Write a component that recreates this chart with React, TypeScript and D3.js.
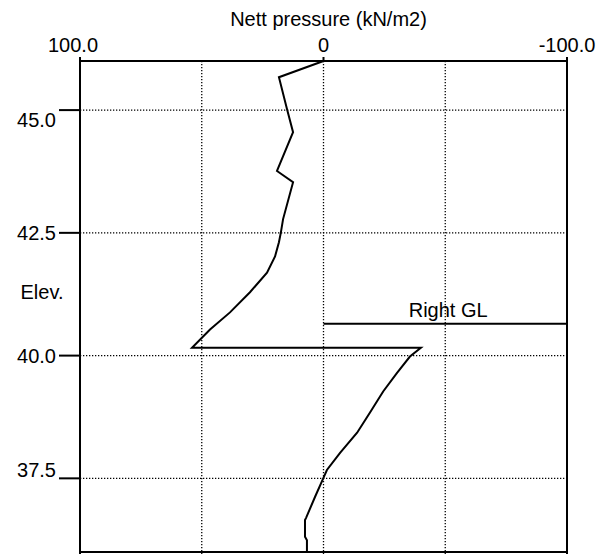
import React from "react";
import * as d3 from "d3";

const pressure = [0, 18.3, 15.0, 12.5, 19.1, 12.5, 16.6, 17.5, 18.3, 19.9, 23.2, 30.2, 38.4, 46.6, 54.0, -40.0, -35.5, -30.2, -24.5, -19.1, -13.8, -6.8, -1.4, 0.2, 3.5, 7.2, 7.6, 7.6, 6.8, 6.8];
const elevation = [46.0, 45.67, 45.02, 44.55, 43.76, 43.53, 42.78, 42.51, 42.31, 42.02, 41.69, 41.29, 40.88, 40.53, 40.16, 40.16, 39.98, 39.65, 39.27, 38.84, 38.43, 38.02, 37.67, 37.49, 37.12, 36.69, 36.65, 36.31, 36.24, 36.0];

const xTicks = [100, 0, -100];
const xTickLabels = ["100.0", "0", "-100.0"];
const xGrid = [50, 0, -50];
const yTicks = [45, 42.5, 40, 37.5];
const yTickLabels = ["45.0", "42.5", "40.0", "37.5"];

const groundLevelName = "Right GL";
const groundLevelElev = 40.65;
const groundLevelRange = [0, -100];

const title = "Nett pressure (kN/m2)";
const yTitle = "Elev.";

export default function App() {
  const W = 612, H = 554;
  const x = d3.scaleLinear().domain([100, -100]).range([80, 567]);
  const y = d3.scaleLinear().domain([36, 46]).range([552, 61]);
  const pts = pressure.map((p, i) => [p, elevation[i]] as [number, number]);
  const line = d3.line<[number, number]>().x(d => x(d[0])).y(d => y(d[1]));
  const font = "'Liberation Sans', Arial, sans-serif";
  const fs = 20;
  const x0 = x(100), x1 = x(-100), yTop = y(46), yBot = y(36);
  const last = yTicks.length - 1;
  return (
    <svg width={W} height={H} style={{ position: "absolute", left: 0, top: 0, background: "#fff" }}>
      <rect x={0} y={0} width={W} height={H} fill="#fff" />
      {xGrid.map((v, i) => (
        <line key={"xg" + i} x1={x(v)} x2={x(v)} y1={yTop} y2={H} stroke="#000" strokeWidth={1.3} strokeDasharray="1.3,1.7" />
      ))}
      {yTicks.map((v, i) => (
        <line key={"yg" + i} x1={x0} x2={x1} y1={y(v)} y2={y(v)} stroke="#000" strokeWidth={1.3} strokeDasharray="1.3,1.7" />
      ))}
      {/* frame */}
      <line x1={x0} x2={x1} y1={yTop} y2={yTop} stroke="#000" strokeWidth={2} />
      <line x1={x0} x2={x1} y1={yBot} y2={yBot} stroke="#000" strokeWidth={2} />
      <line x1={x0} x2={x0} y1={yTop - 4} y2={H} stroke="#000" strokeWidth={2} />
      <line x1={x1} x2={x1} y1={yTop - 4} y2={H} stroke="#000" strokeWidth={2} />
      {xTicks.map((v, i) => (
        <line key={"xt" + i} x1={x(v)} x2={x(v)} y1={yTop - 4} y2={yTop} stroke="#000" strokeWidth={2} />
      ))}
      {yTicks.map((v, i) => (
        <line key={"yt" + i} x1={x0 - 21} x2={x0} y1={y(v)} y2={y(v)} stroke="#000" strokeWidth={2} />
      ))}
      {xTicks.map((v, i) => (
        <text key={"xl" + i} x={x(v)} dx={i === 0 ? -7 : 0} y={yTop - 9} textAnchor="middle" fontFamily={font} fontSize={fs} fill="#000">{xTickLabels[i]}</text>
      ))}
      {yTicks.map((v, i) => (
        <text key={"yl" + i} x={x0 - 24} y={y(v) + (i === 0 ? 10 : i === last ? -8 : 0)} dy="0.35em" textAnchor="end" fontFamily={font} fontSize={fs} fill="#000">{yTickLabels[i]}</text>
      ))}
      <text x={(x0 + x1) / 2 + 5} y={26} textAnchor="middle" fontFamily={font} fontSize={fs} fill="#000">{title}</text>
      <text x={42} y={y(41.3)} dy="0.35em" textAnchor="middle" fontFamily={font} fontSize={fs} fill="#000">{yTitle}</text>
      {/* ground level */}
      <line x1={x(groundLevelRange[0])} x2={x(groundLevelRange[1])} y1={y(groundLevelElev)} y2={y(groundLevelElev)} stroke="#000" strokeWidth={2} />
      <text x={x(-35)} y={y(groundLevelElev) - 7} fontFamily={font} fontSize={fs} fill="#000">{groundLevelName}</text>
      <path d={line(pts) || ""} fill="none" stroke="#000" strokeWidth={2} strokeLinejoin="miter" />
    </svg>
  );
}
